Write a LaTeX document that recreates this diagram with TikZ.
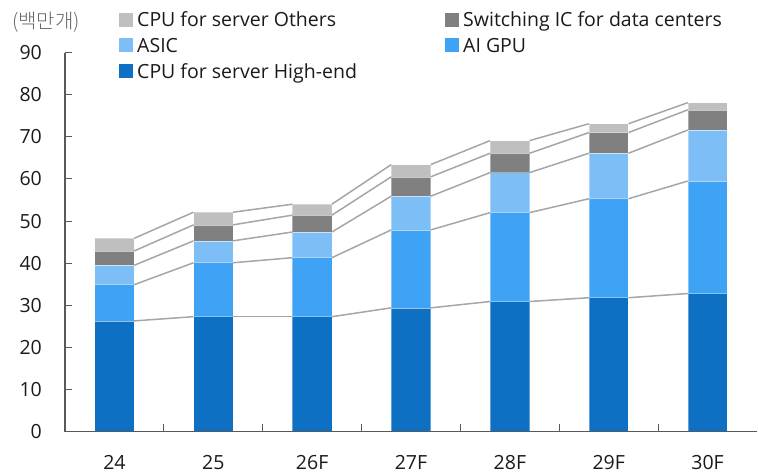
\documentclass[tikz,border=0pt]{standalone}
\usepackage{fontspec}
\setmainfont{Open Sans}
\newfontfamily\kr{Noto Sans CJK KR Light}
\definecolor{cHigh}{HTML}{0D70C3}
\definecolor{cGpu}{HTML}{3FA3F5}
\definecolor{cAsic}{HTML}{7DBEF7}
\definecolor{cSwitch}{HTML}{808080}
\definecolor{cOther}{HTML}{BFBFBF}
\definecolor{cAxis}{HTML}{595959}
\definecolor{cConn}{HTML}{A6A6A6}
\definecolor{cText}{HTML}{1A1A1A}
\definecolor{cUnit}{HTML}{666666}
\tikzset{
  seg/.style={draw=white, draw opacity=0.35, line width=0.6pt},
  conn/.style={draw=cConn, line width=1.5pt},
  axisline/.style={draw=cAxis, line width=1.4pt},
  tickline/.style={draw=cAxis, line width=1pt},
  lbl/.style={font=\fontsize{19.5}{22}\selectfont, text=cText, inner sep=0pt},
  legsq/.style={minimum size=14pt, inner sep=0pt, draw=none},
}
\begin{document}
\begin{tikzpicture}[x=1pt,y=1pt]
\useasboundingbox (0,0) rectangle (758,475);
\def\vs{4.213}
\def\yz{43.3}
\def\hw{19.75}
% stacked bars: high-end, AI GPU, ASIC, switching IC, other CPU (cumulative tops)
\foreach \i/\lab/\a/\b/\c/\d/\e in {
  0/24/26.3/34.9/39.5/42.9/45.9,
  1/25/27.3/40.1/45.3/49.1/52.1,
  2/26F/27.3/41.3/47.4/51.4/54.0,
  3/27F/29.4/47.9/55.9/60.5/63.4,
  4/28F/30.9/52.0/61.5/66.1/69.1,
  5/29F/31.8/55.3/66.1/71.0/73.1,
  6/30F/32.8/59.5/71.6/76.4/78.1}{
  \pgfmathsetmacro\cx{65+98.86*(\i+0.5)}
  \fill[cHigh,seg]   ({\cx-\hw},{\yz})         rectangle ({\cx+\hw},{\yz+\a*\vs});
  \fill[cGpu,seg]    ({\cx-\hw},{\yz+\a*\vs})  rectangle ({\cx+\hw},{\yz+\b*\vs});
  \fill[cAsic,seg]   ({\cx-\hw},{\yz+\b*\vs})  rectangle ({\cx+\hw},{\yz+\c*\vs});
  \fill[cSwitch,seg] ({\cx-\hw},{\yz+\c*\vs})  rectangle ({\cx+\hw},{\yz+\d*\vs});
  \fill[cOther,seg]  ({\cx-\hw},{\yz+\d*\vs})  rectangle ({\cx+\hw},{\yz+\e*\vs});
  \foreach \k/\v in {1/\a,2/\b,3/\c,4/\d,5/\e}{
    \coordinate (L\i-\k) at ({\cx-\hw},{\yz+\v*\vs});
    \coordinate (R\i-\k) at ({\cx+\hw},{\yz+\v*\vs});
  }
  \node[lbl] (x\i) at ({\cx},12.5) {\lab};
}
% series lines between neighbouring bars
\foreach \i [evaluate=\i as \j using int(\i+1)] in {0,...,5}{
  \foreach \k in {1,...,5}{
    \draw[conn] (R\i-\k) -- (L\j-\k);
  }
}
% axes
\coordinate (org) at (65,\yz);
\coordinate (ytop) at (65,{\yz+90*\vs});
\coordinate (xend) at (757,\yz);
\draw[axisline] (ytop) -- (org) -- (xend);
\foreach \t in {0,10,...,90}{
  \coordinate (yt\t) at (65,{\yz+\t*\vs});
  \draw[tickline] (yt\t) -- ++(7,0);
  \node[lbl, anchor=east] (yl\t) at (42,{\yz+\t*\vs}) {\t};
}
\foreach \i in {1,...,6}{
  \coordinate (xt\i) at ({65+98.86*\i},\yz);
  \draw[tickline] (xt\i) -- ++(0,8);
}
% unit label
\node[lbl, anchor=west, text=cUnit, font=\kr\fontsize{20}{22}\selectfont] (unit) at (12,453) {(백만개)};
% legend
\node[legsq, fill=cOther]  (sq1) at (126,455) {};
\node[lbl, anchor=base west] (t1) at (137,448) {CPU for server Others};
\node[legsq, fill=cSwitch] (sq2) at (452,455) {};
\node[lbl, anchor=base west] (t2) at (463,448) {Switching IC for data centers};
\node[legsq, fill=cAsic]   (sq3) at (126,430) {};
\node[lbl, anchor=base west] (t3) at (137,422.5) {ASIC};
\node[legsq, fill=cGpu]    (sq4) at (452,430) {};
\node[lbl, anchor=base west] (t4) at (463,422.5) {AI GPU};
\node[legsq, fill=cHigh]   (sq5) at (126,403.5) {};
\node[lbl, anchor=base west] (t5) at (137,396) {CPU for server High-end};
\end{tikzpicture}
\end{document}
